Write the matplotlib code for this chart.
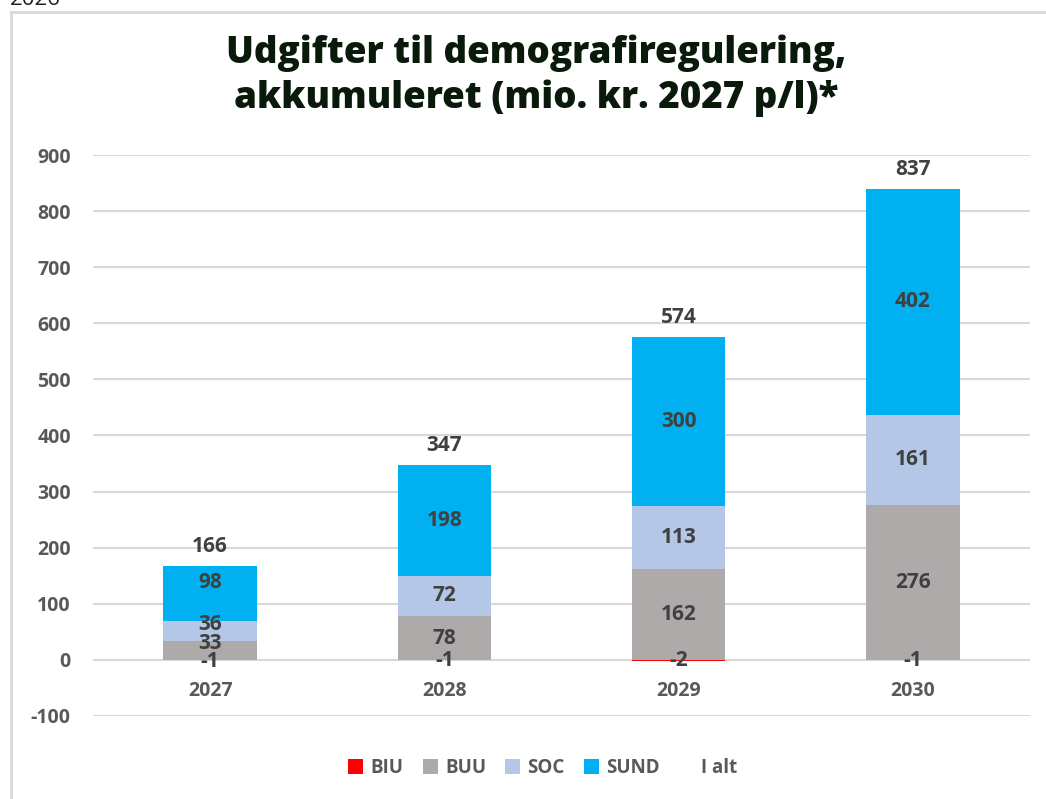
import matplotlib.pyplot as plt
from matplotlib.lines import Line2D
import numpy as np

plt.rcParams['font.family'] = ['Open Sans', 'DejaVu Sans']

years = ['2027', '2028', '2029', '2030']
biu = [-1, -1, -2, -1]
buu = [33, 78, 162, 276]
soc = [36, 72, 113, 161]
sund = [98, 198, 300, 402]
i_alt = [166, 347, 574, 837]
yticks = [-100, 0, 100, 200, 300, 400, 500, 600, 700, 800, 900]

colors = {'BIU': '#FF0000', 'BUU': '#AEAAAA', 'SOC': '#B4C7E7', 'SUND': '#00B0F0'}
label_color = '#404040'
tick_color = '#595959'

fig = plt.figure(figsize=(10.46, 7.99), dpi=100)
ax = fig.add_axes([0.0889, 0.1039, 0.8958, 0.7021])

x = np.arange(len(years))
width = 0.4

buu_a = np.array(buu)
soc_a = np.array(soc)
sund_a = np.array(sund)

b_biu = ax.bar(x, biu, width, color=colors['BIU'], label='BIU', zorder=3)
b_buu = ax.bar(x, buu, width, color=colors['BUU'], label='BUU', zorder=3)
b_soc = ax.bar(x, soc, width, bottom=buu_a, color=colors['SOC'], label='SOC', zorder=3)
b_sund = ax.bar(x, sund, width, bottom=buu_a + soc_a, color=colors['SUND'], label='SUND', zorder=3)

# small nudges (points) so the crowded 2027 labels don't collide, like Excel does
nudge = {(0, 0): -1, (0, 1): 5, (0, 2): 5, (0, 3): 8}
for si, (bars, vals) in enumerate([(b_biu, biu), (b_buu, buu), (b_soc, soc), (b_sund, sund)]):
    for ci, (bar, v) in enumerate(zip(bars, vals)):
        yc = bar.get_y() + bar.get_height() / 2
        ax.annotate(f'{v}', (bar.get_x() + bar.get_width() / 2, yc),
                    xytext=(0, nudge.get((ci, si), 0)), textcoords='offset points',
                    ha='center', va='center', fontsize=15, fontweight='bold',
                    color=label_color, zorder=4)

tops = buu_a + soc_a + sund_a
for xi, top, tot in zip(x, tops, i_alt):
    ax.annotate(f'{tot}', (xi, top), xytext=(0, 14), textcoords='offset points',
                ha='center', va='center', fontsize=15, fontweight='bold', color=label_color)

# category labels sit just under the zero line
for xi, yr in zip(x, years):
    ax.text(xi, -55, yr, ha='center', va='center', fontsize=14, fontweight='bold', color=tick_color)

ax.set_xlim(-0.5, 3.5)
ax.set_ylim(-100, 900)
ax.set_yticks(yticks)
ax.set_yticklabels([str(t) for t in yticks], fontsize=14, fontweight='bold', color=tick_color)
ax.set_xticks([])
ax.tick_params(axis='y', length=0, pad=16)
ax.grid(axis='y', color='#D9D9D9', linewidth=1.5, zorder=0)
for s in ax.spines.values():
    s.set_visible(False)

# legend with an empty entry for "I alt"
handles = [b_biu, b_buu, b_soc, b_sund,
           Line2D([], [], linestyle='none', marker=None, label='I alt')]
leg = ax.legend(handles=handles, labels=['BIU', 'BUU', 'SOC', 'SUND', 'I alt'],
                loc='center', bbox_to_anchor=(0.48, -0.093), ncol=5, frameon=False,
                handlelength=0.8, handleheight=0.8, handletextpad=0.4, columnspacing=1.0,
                prop={'size': 13.5, 'weight': 'bold'})
for t in leg.get_texts():
    t.set_color(tick_color)

fig.text(0.513, 0.905, 'Udgifter til demografiregulering,\nakkumuleret (mio. kr. 2027 p/l)*',
         ha='center', va='center', fontsize=26.5, fontweight=800, family=['Open Sans', 'DejaVu Sans'],
         color='#0A1A0A', linespacing=1.25)

# outer frame (left and top edge visible)
fig.add_artist(Line2D([0.0105, 0.0105], [0, 0.985], transform=fig.transFigure, color='#D9D9D9', linewidth=2))
fig.add_artist(Line2D([0.0105, 1.0], [0.985, 0.985], transform=fig.transFigure, color='#D9D9D9', linewidth=2))

fig.text(0.009, 0.994, '2026', ha='left', va='baseline', fontsize=16, color='#222222')

fig.savefig('out.png', dpi=100, facecolor='white')
